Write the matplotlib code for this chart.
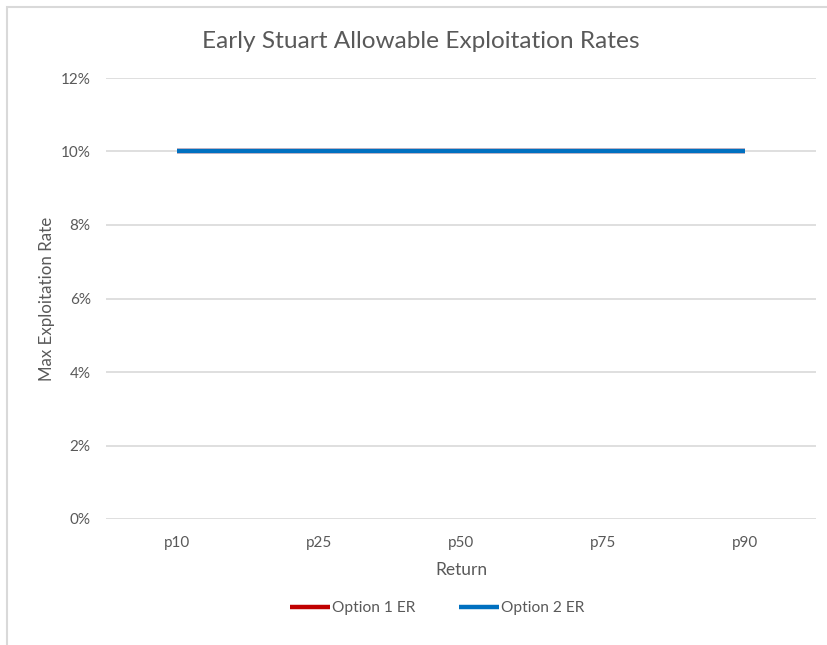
import matplotlib
matplotlib.use("Agg")
import matplotlib.pyplot as plt
from matplotlib.patches import Rectangle
from matplotlib.ticker import PercentFormatter

categories = ["p10", "p25", "p50", "p75", "p90"]
option1_er = [0.10, 0.10, 0.10, 0.10, 0.10]
option2_er = [0.10, 0.10, 0.10, 0.10, 0.10]
yticks = [0.0, 0.02, 0.04, 0.06, 0.08, 0.10, 0.12]

W, H = 827, 645
plt.rcParams["font.family"] = ["Lato", "DejaVu Sans"]
text_color = "#595959"
grid_color = "#D9D9D9"

fig = plt.figure(figsize=(W / 100, H / 100), dpi=100)

# chart frame (right and bottom edges run off the canvas)
fig.patches.append(Rectangle((7 / W, -0.1), 1.2, 1 - 7 / H + 0.1,
                             transform=fig.transFigure, fill=False,
                             edgecolor=grid_color, linewidth=1.5))

ax = fig.add_axes([106 / W, 1 - 519 / H, (816 - 106) / W, (519 - 78) / H])
x = list(range(len(categories)))
ax.plot(x, option1_er, color="#C00000", linewidth=3.2, solid_capstyle="butt",
        label="Option 1 ER", zorder=3)
ax.plot(x, option2_er, color="#0070C0", linewidth=3.2, solid_capstyle="butt",
        label="Option 2 ER", zorder=4)

ax.set_xlim(-0.5, len(categories) - 0.5)
ax.set_ylim(0, 0.12)
ax.set_yticks(yticks)
ax.yaxis.set_major_formatter(PercentFormatter(1.0, decimals=0))
ax.set_xticks(x)
ax.set_xticklabels(categories)
ax.grid(axis="y", color=grid_color, linewidth=1.2)
ax.set_axisbelow(True)
for s in ax.spines.values():
    s.set_visible(False)
ax.tick_params(axis="both", length=0, colors=text_color, labelsize=11)
ax.tick_params(axis="y", pad=11)
ax.tick_params(axis="x", pad=12)

ax.set_xlabel("Return", color=text_color, fontsize=12.5, labelpad=9)
ax.set_ylabel("Max Exploitation Rate", color=text_color, fontsize=12.2, labelpad=4)
fig.text(421 / W, 1 - 42 / H, "Early Stuart Allowable Exploitation Rates",
         ha="center", va="center", color=text_color, fontsize=17.6)

fig.legend(loc="center", bbox_to_anchor=(437 / W, 1 - 608 / H), ncol=2,
           frameon=False, fontsize=11.2, handlelength=2.6, handletextpad=0.1,
           columnspacing=2.8, labelcolor=text_color)

fig.savefig("out.png", dpi=100, facecolor="white")
